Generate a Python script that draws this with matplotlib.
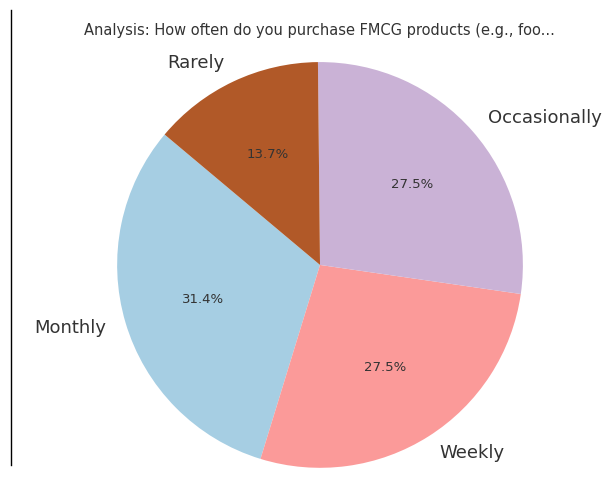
import matplotlib
matplotlib.use('Agg')
import matplotlib.pyplot as plt
from matplotlib.lines import Line2D
import numpy as np

plt.rcParams['font.family'] = ['DejaVu Sans']

# survey answers (counts)
labels = ['Monthly', 'Weekly', 'Occasionally', 'Rarely']
counts = [16, 14, 14, 7]
title = 'Analysis: How often do you purchase FMCG products (e.g., foo...'

colors = plt.cm.Paired(np.linspace(0, 1, len(labels)))

fig = plt.figure(figsize=(6.16, 4.92), dpi=100)
ax = fig.add_axes([0.1737, 0.0285, 0.6916, 0.866])

wedges, texts, autotexts = ax.pie(counts, labels=labels, colors=colors,
                                  autopct='%1.1f%%', startangle=140)
for t in texts:
    t.set_fontsize(13)
    t.set_color('#333333')
for t in autotexts:
    t.set_fontsize(9.5)
    t.set_color('#333333')
ax.set_xlim(-1.05, 1.05)
ax.set_ylim(-1.05, 1.05)
ax.set_aspect('equal')

fig.text(0.519, 0.939, title, ha='center', va='center', fontsize=10.5,
         color='#333333')

# thin rule on the left edge
fig.add_artist(Line2D([11 / 616, 11 / 616], [1 - 10 / 492, 1 - 465 / 492],
                      color='black', lw=1))

fig.savefig('out.png', dpi=100)
